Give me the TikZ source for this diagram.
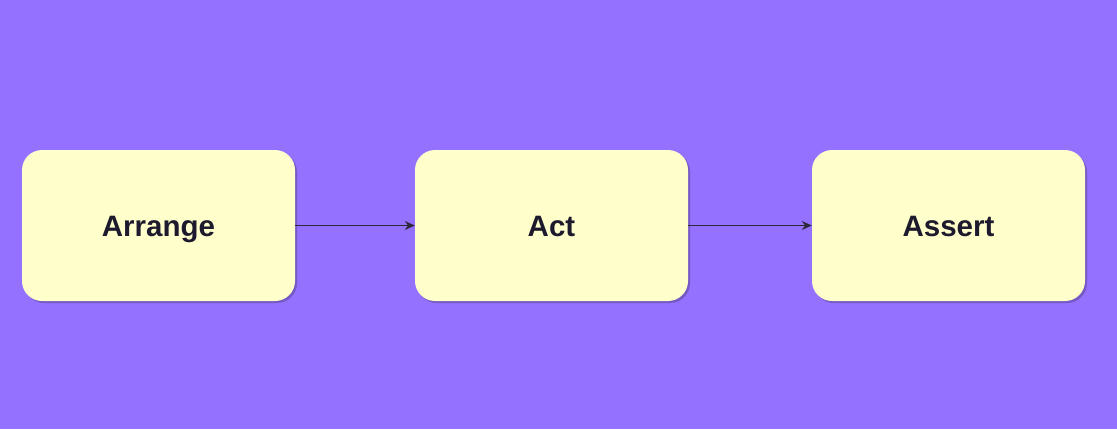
\documentclass[tikz,border=0pt]{standalone}
\usepackage{fontspec}
\setmainfont{Liberation Sans}
\usetikzlibrary{arrows.meta,shadows}
\definecolor{bg}{HTML}{9471FF}
\definecolor{boxfill}{HTML}{FFFFCC}
\definecolor{shade}{HTML}{7559C4}
\definecolor{ink}{HTML}{1E1A2E}
\definecolor{arrowc}{HTML}{2E2A3C}
\tikzset{
  stepbox/.style={rectangle, rounded corners=20pt, fill=boxfill, draw=none,
    minimum width=273pt, minimum height=151pt, inner sep=0pt,
    font=\fontsize{29.5}{32}\selectfont\bfseries, text=ink,
    text height=21pt, text depth=0pt,
    drop shadow={shadow xshift=2pt, shadow yshift=-2pt, fill=shade, opacity=1}},
  flow/.style={draw=arrowc, line width=1.3pt, -{Stealth[length=10pt,width=9pt]}}
}
\begin{document}
\begin{tikzpicture}[x=1pt,y=-1pt]
\fill[bg] (0,0) rectangle (1117,429);
\useasboundingbox (0,0) rectangle (1117,429);
\node[stepbox] (arrange) at (158.5,225.5) {Arrange};
\node[stepbox] (act) at (551.5,225.5) {Act};
\node[stepbox] (assert) at (948.5,225.5) {Assert};
\draw[flow] (arrange.east) -- (act.west);
\draw[flow] (act.east) -- (assert.west);
\end{tikzpicture}
\end{document}
